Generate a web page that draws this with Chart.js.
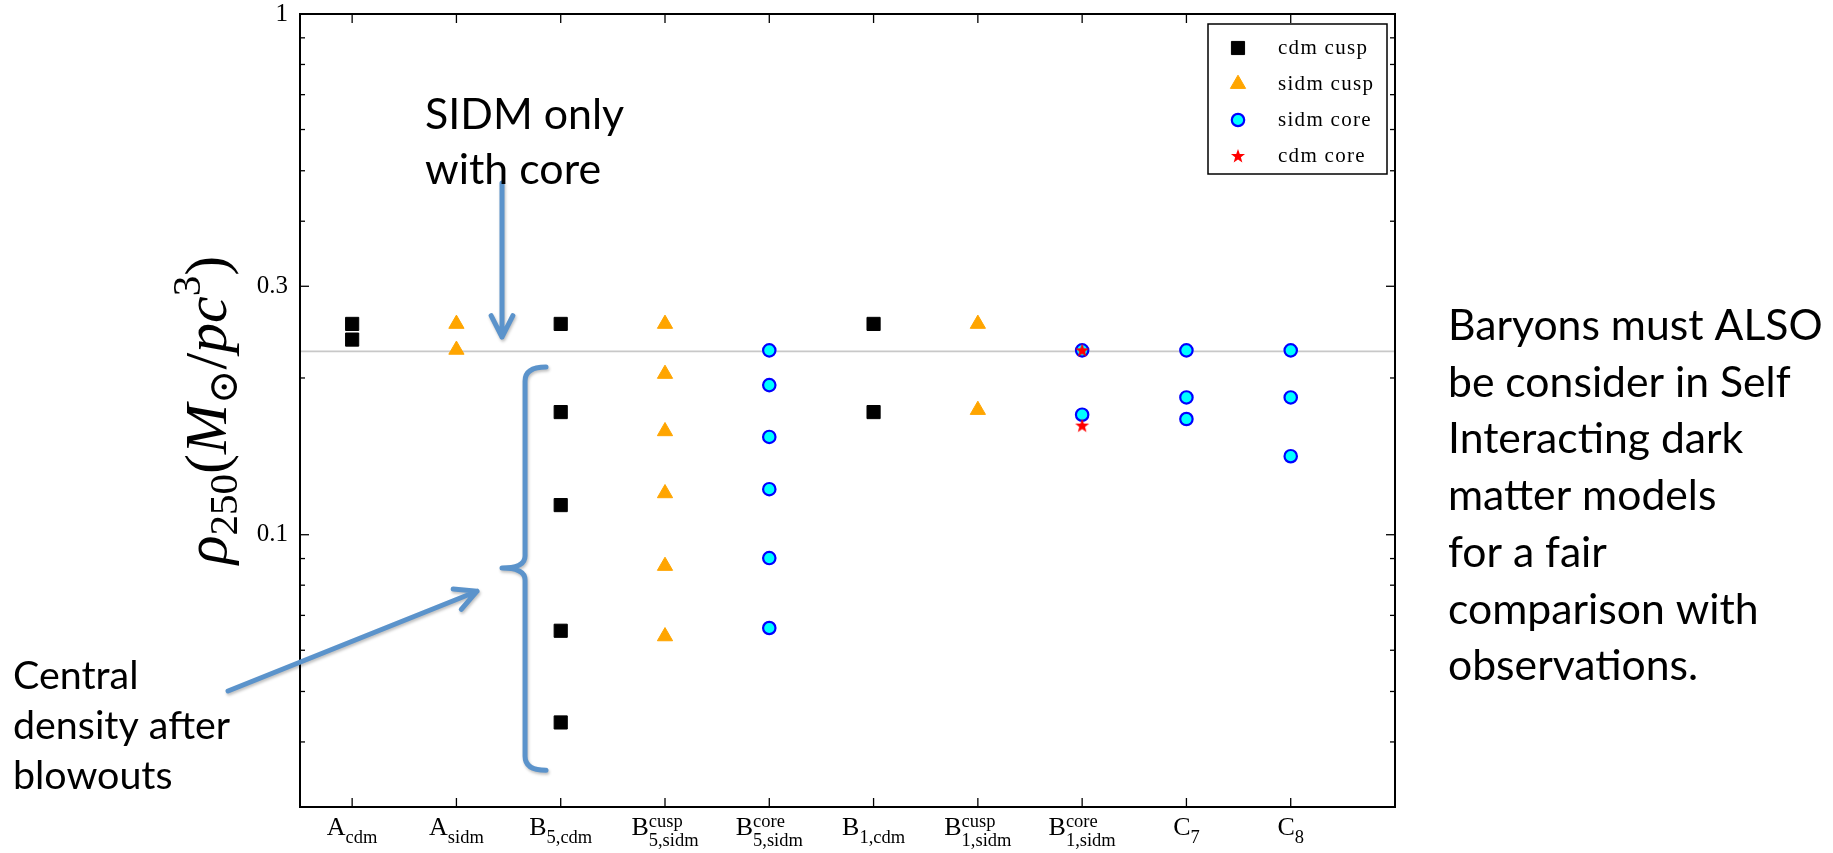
<!DOCTYPE html>
<html lang="en">
<head>
<meta charset="UTF-8">
<title>Central density rho_250</title>
<script src="https://cdn.jsdelivr.net/npm/chart.js"></script>
<style>
    body { margin: 0; background: #fff; }
    .wrap { position: relative; width: 1833px; height: 853px; }
</style>
</head>
<body>
<div class="wrap">
    <canvas id="rhoChart" width="1833" height="853"></canvas>
</div>

<script>
// categories (main letter, subscript, superscript)
const catMain = ['A', 'A', 'B', 'B', 'B', 'B', 'B', 'B', 'C', 'C'];
const catSub  = ['cdm', 'sidm', '5,cdm', '5,sidm', '5,sidm', '1,cdm', '1,sidm', '1,sidm', '7', '8'];
const catSup  = ['', '', '', 'cusp', 'core', '', 'cusp', 'core', '', ''];

// y axis ticks
const yTickVals   = [1, 0.3, 0.1];
const yTickLabels = ['1', '0.3', '0.1'];
const yMinorTicks = [0.04, 0.05, 0.06, 0.07, 0.08, 0.09, 0.2, 0.4, 0.5, 0.6, 0.7, 0.8, 0.9];

// series: category index + value
const cdmCuspCat  = [0, 0, 2, 2, 2, 2, 2, 5, 5];
const cdmCuspVal  = [0.254, 0.237, 0.254, 0.172, 0.114, 0.0654, 0.0436, 0.254, 0.172];
const sidmCuspCat = [1, 1, 3, 3, 3, 3, 3, 3, 6, 6];
const sidmCuspVal = [0.254, 0.2265, 0.254, 0.2036, 0.158, 0.1201, 0.0871, 0.0638, 0.254, 0.1736];
const sidmCoreCat = [4, 4, 4, 4, 4, 4, 7, 7, 8, 8, 8, 9, 9, 9];
const sidmCoreVal = [0.226, 0.1938, 0.1541, 0.1223, 0.0902, 0.0662, 0.226, 0.170, 0.226, 0.1835, 0.1668, 0.226, 0.1835, 0.1415];
const cdmCoreCat  = [7, 7];
const cdmCoreVal  = [0.226, 0.162];

const refLevel = 0.225;
const xMin = -0.5, xMax = 10, yMin = 0.03, yMax = 1;

// annotation anchors in data units
const arrowDown  = {x1: 1.437, y1: 0.4735, x2: 1.437, y2: 0.2397};
const arrowDiag  = {x1: -1.19, y1: 0.0501, x2: 1.198, y2: 0.0779};
const brace      = {x: 1.658, xEnd: 1.859, xTip: 1.437, yTop: 0.2099, yMid: 0.0863, yBot: 0.0353};

const noteTop   = ['SIDM only', 'with core'];
const noteLeft  = ['Central', 'density after', 'blowouts'];
const noteRight = ['Baryons must ALSO', 'be consider in Self', 'Interacting dark',
                   'matter models', 'for a fair', 'comparison with', 'observations.'];

const pts = (cats, vals) => cats.map((c, i) => ({x: c, y: vals[i]}));

// filled 5-point star for "cdm core"
const starImg = document.createElement('canvas');
starImg.width = 16; starImg.height = 16;
(function () {
    const s = starImg.getContext('2d');
    s.fillStyle = '#ff0000';
    s.beginPath();
    for (let k = 0; k < 10; k++) {
        const r = k % 2 ? 3 : 7.4;
        const a = -Math.PI / 2 + k * Math.PI / 5;
        s.lineTo(8 + r * Math.cos(a), 8.4 + r * Math.sin(a));
    }
    s.closePath();
    s.fill();
})();

const serif = '"Liberation Serif", "DejaVu Serif", serif';
const blue = '#5b93cb';

function arrow(ctx, x1, y1, x2, y2) {
    const ang = Math.atan2(y2 - y1, x2 - x1);
    const len = 24, spread = 27 * Math.PI / 180;
    ctx.beginPath();
    ctx.moveTo(x1, y1);
    ctx.lineTo(x2, y2);
    ctx.moveTo(x2 - len * Math.cos(ang - spread), y2 - len * Math.sin(ang - spread));
    ctx.lineTo(x2, y2);
    ctx.lineTo(x2 - len * Math.cos(ang + spread), y2 - len * Math.sin(ang + spread));
    ctx.stroke();
}

function note(ctx, lines, left, base, gap, fitLine, fitW) {
    ctx.font = '100px Lato';
    const size = 100 * fitW / ctx.measureText(fitLine).width;
    ctx.font = size.toFixed(1) + 'px Lato';
    lines.forEach((t, i) => ctx.fillText(t, left, base + i * gap));
}

const decor = {
    id: 'decor',
    afterDraw(chart) {
        const {ctx, chartArea: a, scales: {x, y}} = chart;
        ctx.save();
        ctx.strokeStyle = '#000';
        ctx.fillStyle = '#000';

        // inward ticks on all four sides
        ctx.lineWidth = 1.3;
        const seg = (x1, y1, x2, y2) => { ctx.beginPath(); ctx.moveTo(x1, y1); ctx.lineTo(x2, y2); ctx.stroke(); };
        catMain.forEach((m, i) => {
            const px = x.getPixelForValue(i);
            seg(px, a.bottom, px, a.bottom - 9);
            seg(px, a.top, px, a.top + 9);
        });
        yTickVals.forEach(v => {
            const py = y.getPixelForValue(v);
            seg(a.left, py, a.left + 9, py);
            seg(a.right, py, a.right - 9, py);
        });
        yMinorTicks.forEach(v => {
            const py = y.getPixelForValue(v);
            seg(a.left, py, a.left + 5, py);
            seg(a.right, py, a.right - 5, py);
        });

        // frame
        ctx.lineWidth = 2;
        ctx.strokeRect(a.left, a.top, a.width, a.height);

        // y tick labels
        ctx.font = '25px ' + serif;
        ctx.textAlign = 'right';
        ctx.textBaseline = 'middle';
        yTickVals.forEach((v, i) => ctx.fillText(yTickLabels[i], a.left - 12, y.getPixelForValue(v)));

        // x tick labels with sub/superscripts
        ctx.textAlign = 'left';
        ctx.textBaseline = 'alphabetic';
        const mainF = '26px ' + serif, smallF = '18.5px ' + serif;
        catMain.forEach((m, i) => {
            const px = x.getPixelForValue(i);
            ctx.font = mainF;
            const wm = ctx.measureText(m).width;
            ctx.font = smallF;
            const ws = ctx.measureText(catSub[i]).width;
            const wp = catSup[i] ? ctx.measureText(catSup[i]).width : 0;
            const x0 = px - (wm + Math.max(ws, wp)) / 2;
            const base = a.bottom + 28;
            ctx.font = mainF;
            ctx.fillText(m, x0, base);
            ctx.font = smallF;
            ctx.fillText(catSub[i], x0 + wm, base + (catSup[i] ? 11 : 8));
            if (catSup[i]) ctx.fillText(catSup[i], x0 + wm, base - 8);
        });

        // y axis title, rotated
        ctx.save();
        ctx.translate(226, 410);
        ctx.rotate(-Math.PI / 2);
        const parts = [
            {t: 'ρ', it: true}, {t: '250', sub: true}, {t: '('}, {t: 'M', it: true},
            {t: '⊙', sub: true}, {t: '/'}, {t: 'pc', it: true}, {t: '3', sup: true}, {t: ')'}
        ];
        const big = 60, small = 41;
        const fontOf = p => (p.it ? 'italic ' : '') + ((p.sub || p.sup) ? small : big) + 'px ' + serif;
        let total = 0;
        parts.forEach(p => { ctx.font = fontOf(p); p.w = ctx.measureText(p.t).width; total += p.w; });
        let cx = -total / 2;
        parts.forEach(p => {
            ctx.font = fontOf(p);
            ctx.fillText(p.t, cx, p.sub ? 11 : (p.sup ? -26 : 0));
            cx += p.w;
        });
        ctx.restore();

        // legend box
        const bx = a.right - 187, by = a.top + 10, bw = 179, bh = 150;
        ctx.fillStyle = '#fff';
        ctx.fillRect(bx, by, bw, bh);
        ctx.lineWidth = 1.5;
        ctx.strokeStyle = '#000';
        ctx.strokeRect(bx, by, bw, bh);
        chart.data.datasets.filter(d => d.type !== 'line').forEach((d, i) => {
            const my = by + 24 + i * 36;
            ctx.fillStyle = d.backgroundColor;
            ctx.strokeStyle = d.borderColor;
            ctx.lineWidth = d.borderWidth || 0;
            Chart.helpers.drawPoint(ctx, {pointStyle: d.pointStyle, radius: d.pointRadius, rotation: 0, borderWidth: d.borderWidth || 0}, bx + 30, my);
            ctx.fillStyle = '#000';
            ctx.font = '21px ' + serif;
            ctx.letterSpacing = '1.3px';
            ctx.textBaseline = 'middle';
            ctx.fillText(d.label, bx + 70, my);
            ctx.letterSpacing = '0px';
        });

        // arrows and brace
        ctx.strokeStyle = blue;
        ctx.lineWidth = 5;
        ctx.lineCap = 'round';
        ctx.lineJoin = 'round';
        ctx.shadowColor = 'rgba(0,0,0,0.25)';
        ctx.shadowBlur = 3;
        ctx.shadowOffsetX = 1;
        ctx.shadowOffsetY = 2;
        arrow(ctx, x.getPixelForValue(arrowDown.x1), y.getPixelForValue(arrowDown.y1),
                   x.getPixelForValue(arrowDown.x2), y.getPixelForValue(arrowDown.y2));
        arrow(ctx, x.getPixelForValue(arrowDiag.x1), y.getPixelForValue(arrowDiag.y1),
                   x.getPixelForValue(arrowDiag.x2), y.getPixelForValue(arrowDiag.y2));
        const bxv = x.getPixelForValue(brace.x), bxe = x.getPixelForValue(brace.xEnd), bxt = x.getPixelForValue(brace.xTip);
        const yt = y.getPixelForValue(brace.yTop), ym = y.getPixelForValue(brace.yMid), yb = y.getPixelForValue(brace.yBot);
        ctx.beginPath();
        ctx.moveTo(bxe, yt);
        ctx.quadraticCurveTo(bxv, yt, bxv, yt + 14);
        ctx.lineTo(bxv, ym - 12);
        ctx.quadraticCurveTo(bxv, ym, bxt, ym);
        ctx.quadraticCurveTo(bxv, ym, bxv, ym + 12);
        ctx.lineTo(bxv, yb - 14);
        ctx.quadraticCurveTo(bxv, yb, bxe, yb);
        ctx.stroke();
        ctx.shadowColor = 'transparent';

        // slide notes
        ctx.fillStyle = '#000';
        ctx.textAlign = 'left';
        ctx.textBaseline = 'alphabetic';
        note(ctx, noteTop, 425, 129, 55, 'SIDM only', 199);
        note(ctx, noteLeft, 13, 689, 50, 'density after', 217);
        note(ctx, noteRight, 1448, 340, 56.7, 'Baryons must ALSO', 375);
        ctx.restore();
    }
};

new Chart(document.getElementById('rhoChart'), {
    type: 'scatter',
    data: {
        datasets: [
            {label: 'cdm cusp', data: pts(cdmCuspCat, cdmCuspVal), pointStyle: 'rect', pointRadius: 9.3,
             backgroundColor: '#000000', borderColor: '#000000', borderWidth: 1, order: 4},
            {label: 'sidm cusp', data: pts(sidmCuspCat, sidmCuspVal), pointStyle: 'triangle', pointRadius: 8.8,
             backgroundColor: '#ffa500', borderColor: '#ffa500', borderWidth: 1, order: 3},
            {label: 'sidm core', data: pts(sidmCoreCat, sidmCoreVal), pointStyle: 'circle', pointRadius: 6.2,
             backgroundColor: '#00ffff', borderColor: '#0000ff', borderWidth: 2.2, order: 2},
            {label: 'cdm core', data: pts(cdmCoreCat, cdmCoreVal), pointStyle: starImg, pointRadius: 7,
             backgroundColor: '#ff0000', borderColor: '#ff0000', borderWidth: 0, order: 1},
            {type: 'line', label: 'ref', data: [{x: xMin, y: refLevel}, {x: xMax, y: refLevel}],
             borderColor: '#c8c8c8', borderWidth: 1.6, pointRadius: 0, order: 10}
        ]
    },
    options: {
        responsive: false,
        animation: false,
        layout: {padding: {left: 300, top: 14, right: 438, bottom: 46}},
        scales: {
            x: {type: 'linear', min: xMin, max: xMax, display: false},
            y: {type: 'logarithmic', min: yMin, max: yMax, display: false}
        },
        plugins: {legend: {display: false}, tooltip: {enabled: false}}
    },
    plugins: [decor]
});
</script>
</body>
</html>
